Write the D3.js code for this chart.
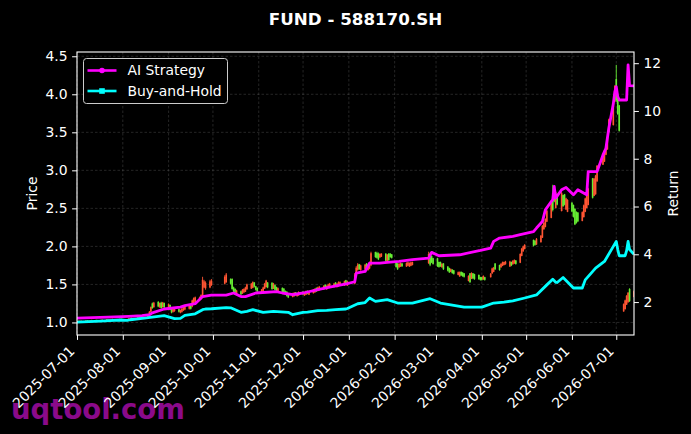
<!DOCTYPE html>
<html>
<head>
<meta charset="utf-8">
<script src="https://cdn.jsdelivr.net/npm/d3@7"></script>
<style>
  body { margin: 0; background: #000; }
  svg { display: block; }
  text { font-family: "DejaVu Sans", sans-serif; fill: #fff; }
</style>
</head>
<body>
<script>
// chart of fund 588170.SH: daily candles (price) plus two strategy curves (return)

// trading days, one line per week
var tradeDays = [
  "2025-07-01","2025-07-02","2025-07-03","2025-07-04",
  "2025-07-07","2025-07-08","2025-07-09","2025-07-10","2025-07-11",
  "2025-07-14","2025-07-15","2025-07-16","2025-07-17","2025-07-18",
  "2025-07-21","2025-07-22","2025-07-23","2025-07-24","2025-07-25",
  "2025-07-28","2025-07-29","2025-07-30","2025-07-31","2025-08-01",
  "2025-08-04","2025-08-05","2025-08-06","2025-08-07","2025-08-08",
  "2025-08-11","2025-08-12","2025-08-13","2025-08-14","2025-08-15",
  "2025-08-18","2025-08-19","2025-08-20","2025-08-21","2025-08-22",
  "2025-08-25","2025-08-26","2025-08-27","2025-08-28","2025-08-29",
  "2025-09-01","2025-09-02","2025-09-03","2025-09-04","2025-09-05",
  "2025-09-08","2025-09-09","2025-09-10","2025-09-11","2025-09-12",
  "2025-09-15","2025-09-16","2025-09-17","2025-09-18","2025-09-19",
  "2025-09-22","2025-09-23","2025-09-24","2025-09-25","2025-09-26",
  "2025-09-29","2025-09-30",
  "2025-10-09","2025-10-10",
  "2025-10-13","2025-10-14","2025-10-15","2025-10-16","2025-10-17",
  "2025-10-20","2025-10-21","2025-10-22","2025-10-23","2025-10-24",
  "2025-10-27","2025-10-28","2025-10-29","2025-10-30","2025-10-31",
  "2025-11-03","2025-11-04","2025-11-05","2025-11-06","2025-11-07",
  "2025-11-10","2025-11-11","2025-11-12","2025-11-13","2025-11-14",
  "2025-11-17","2025-11-18","2025-11-19","2025-11-20","2025-11-21",
  "2025-11-24","2025-11-25","2025-11-26","2025-11-27","2025-11-28",
  "2025-12-01","2025-12-02","2025-12-03","2025-12-04","2025-12-05",
  "2025-12-08","2025-12-09","2025-12-10","2025-12-11","2025-12-12",
  "2025-12-15","2025-12-16","2025-12-17","2025-12-18","2025-12-19",
  "2025-12-22","2025-12-23","2025-12-24","2025-12-25","2025-12-26",
  "2025-12-29","2025-12-30","2025-12-31",
  "2026-01-05","2026-01-06","2026-01-07","2026-01-08","2026-01-09",
  "2026-01-12","2026-01-13","2026-01-14","2026-01-15","2026-01-16",
  "2026-01-19","2026-01-20","2026-01-21","2026-01-22","2026-01-23",
  "2026-01-26","2026-01-27","2026-01-28","2026-01-29","2026-01-30",
  "2026-02-02","2026-02-03","2026-02-04","2026-02-05","2026-02-06",
  "2026-02-09","2026-02-10","2026-02-11","2026-02-12","2026-02-13",
  "2026-02-24","2026-02-25","2026-02-26","2026-02-27",
  "2026-03-02","2026-03-03","2026-03-04","2026-03-05","2026-03-06",
  "2026-03-09","2026-03-10","2026-03-11","2026-03-12","2026-03-13",
  "2026-03-16","2026-03-17","2026-03-18","2026-03-19","2026-03-20",
  "2026-03-23","2026-03-24","2026-03-25","2026-03-26","2026-03-27",
  "2026-03-30","2026-03-31","2026-04-01","2026-04-02","2026-04-03",
  "2026-04-07","2026-04-08","2026-04-09","2026-04-10",
  "2026-04-13","2026-04-14","2026-04-15","2026-04-16","2026-04-17",
  "2026-04-20","2026-04-21","2026-04-22","2026-04-23","2026-04-24",
  "2026-04-27","2026-04-28","2026-04-29","2026-04-30",
  "2026-05-06","2026-05-07","2026-05-08",
  "2026-05-11","2026-05-12","2026-05-13","2026-05-14","2026-05-15",
  "2026-05-18","2026-05-19","2026-05-20","2026-05-21","2026-05-22",
  "2026-05-25","2026-05-26","2026-05-27","2026-05-28","2026-05-29",
  "2026-06-01","2026-06-02","2026-06-03","2026-06-04","2026-06-05",
  "2026-06-08","2026-06-09","2026-06-10","2026-06-11","2026-06-12",
  "2026-06-15","2026-06-16","2026-06-17","2026-06-18",
  "2026-06-22","2026-06-23","2026-06-24","2026-06-25","2026-06-26",
  "2026-06-29","2026-06-30","2026-07-01","2026-07-02","2026-07-03",
  "2026-07-06","2026-07-07","2026-07-08","2026-07-09","2026-07-10",
  "2026-07-13"
];

// open, high, low, close for each trading day (same week lines as above)
var ohlc = [
  [1.010,1.020,1.004,1.016],[1.016,1.024,1.010,1.020],[1.020,1.026,1.012,1.014],[1.014,1.024,1.008,1.021],
  [1.021,1.028,1.015,1.025],[1.025,1.032,1.018,1.020],[1.020,1.027,1.012,1.018],[1.018,1.030,1.014,1.027],[1.027,1.036,1.022,1.032],
  [1.032,1.038,1.024,1.028],[1.028,1.034,1.018,1.022],[1.022,1.030,1.016,1.026],[1.026,1.035,1.020,1.031],[1.031,1.040,1.026,1.036],
  [1.036,1.044,1.030,1.040],[1.040,1.046,1.032,1.035],[1.035,1.042,1.028,1.038],[1.038,1.048,1.034,1.044],[1.044,1.050,1.036,1.040],
  [1.040,1.046,1.032,1.036],[1.036,1.044,1.030,1.041],[1.041,1.050,1.036,1.046],[1.046,1.052,1.036,1.040],[1.040,1.046,1.032,1.038],
  [1.038,1.048,1.034,1.045],[1.045,1.056,1.040,1.052],[1.052,1.060,1.046,1.056],[1.056,1.064,1.048,1.052],[1.052,1.060,1.044,1.058],
  [1.058,1.068,1.052,1.064],[1.064,1.072,1.056,1.060],[1.060,1.070,1.054,1.066],[1.066,1.076,1.058,1.062],[1.062,1.074,1.056,1.070],
  [1.070,1.100,1.066,1.095],[1.095,1.150,1.090,1.140],[1.140,1.210,1.135,1.200],[1.250,1.262,1.180,1.190],[1.200,1.270,1.195,1.260],
  [1.270,1.280,1.200,1.210],[1.205,1.262,1.190,1.255],[1.260,1.272,1.180,1.190],[1.200,1.270,1.195,1.262],[1.255,1.262,1.190,1.200],
  [1.190,1.250,1.180,1.240],[1.230,1.235,1.160,1.170],[1.190,1.200,1.120,1.130],[1.140,1.190,1.130,1.180],[1.150,1.200,1.140,1.190],
  [1.175,1.180,1.130,1.140],[1.130,1.170,1.120,1.160],[1.140,1.190,1.130,1.180],[1.160,1.210,1.150,1.200],[1.170,1.220,1.160,1.210],
  [1.180,1.230,1.170,1.220],[1.215,1.220,1.170,1.180],[1.210,1.300,1.200,1.290],[1.250,1.330,1.240,1.320],[1.270,1.340,1.260,1.330],
  [1.290,1.340,1.280,1.330],[1.310,1.370,1.300,1.360],[1.340,1.600,1.320,1.560],[1.460,1.560,1.450,1.540],[1.450,1.540,1.430,1.520],
  [1.460,1.560,1.450,1.540],[1.490,1.570,1.480,1.550],
  [1.510,1.620,1.500,1.600],[1.530,1.650,1.520,1.630],
  [1.570,1.580,1.500,1.510],[1.570,1.580,1.430,1.440],[1.460,1.470,1.400,1.410],[1.440,1.450,1.380,1.390],[1.380,1.430,1.370,1.420],
  [1.410,1.420,1.360,1.370],[1.380,1.440,1.375,1.430],[1.395,1.450,1.390,1.440],[1.405,1.470,1.400,1.460],[1.435,1.510,1.430,1.500],
  [1.445,1.520,1.440,1.510],[1.455,1.540,1.450,1.530],[1.525,1.530,1.460,1.470],[1.475,1.480,1.420,1.430],[1.455,1.460,1.400,1.410],
  [1.395,1.440,1.390,1.435],[1.415,1.470,1.410,1.460],[1.445,1.520,1.440,1.510],[1.465,1.560,1.460,1.550],[1.525,1.530,1.450,1.460],
  [1.520,1.530,1.430,1.440],[1.445,1.520,1.440,1.510],[1.490,1.500,1.420,1.430],[1.465,1.470,1.410,1.420],[1.405,1.460,1.400,1.450],
  [1.455,1.460,1.390,1.400],[1.445,1.450,1.380,1.390],[1.415,1.420,1.360,1.370],[1.405,1.410,1.340,1.350],[1.375,1.380,1.320,1.330],
  [1.335,1.390,1.330,1.380],[1.345,1.400,1.340,1.390],[1.395,1.400,1.350,1.360],[1.345,1.390,1.340,1.380],[1.355,1.410,1.350,1.400],
  [1.405,1.410,1.360,1.370],[1.355,1.400,1.350,1.390],[1.365,1.420,1.360,1.410],[1.415,1.420,1.370,1.380],[1.365,1.410,1.360,1.400],
  [1.385,1.440,1.380,1.430],[1.395,1.450,1.390,1.440],[1.455,1.460,1.400,1.410],[1.415,1.470,1.410,1.460],[1.425,1.480,1.420,1.470],
  [1.435,1.490,1.430,1.480],[1.495,1.500,1.440,1.450],[1.435,1.490,1.430,1.480],[1.455,1.510,1.450,1.500],[1.455,1.520,1.450,1.510],
  [1.465,1.520,1.460,1.510],[1.525,1.530,1.470,1.480],[1.465,1.520,1.460,1.510],[1.475,1.540,1.470,1.530],[1.485,1.540,1.480,1.530],
  [1.485,1.550,1.480,1.540],[1.555,1.560,1.490,1.500],[1.485,1.550,1.480,1.540],
  [1.510,1.650,1.500,1.630],[1.630,1.740,1.620,1.720],[1.690,1.780,1.680,1.760],[1.765,1.770,1.690,1.700],[1.690,1.760,1.680,1.750],
  [1.700,1.770,1.690,1.760],[1.775,1.780,1.700,1.710],[1.690,1.760,1.680,1.750],[1.710,1.800,1.700,1.790],[1.750,1.930,1.740,1.910],
  [1.925,1.930,1.850,1.860],[1.915,1.930,1.840,1.850],[1.905,1.920,1.820,1.830],[1.855,1.910,1.850,1.900],[1.865,1.910,1.860,1.905],
  [1.905,1.910,1.800,1.810],[1.790,1.900,1.780,1.890],[1.905,1.910,1.810,1.820],[1.905,1.910,1.850,1.860],[1.895,1.900,1.840,1.850],
  [1.795,1.800,1.720,1.730],[1.775,1.780,1.690,1.700],[1.725,1.780,1.720,1.770],[1.735,1.790,1.730,1.780],[1.775,1.780,1.730,1.740],
  [1.735,1.790,1.730,1.780],[1.745,1.800,1.740,1.790],[1.735,1.790,1.730,1.780],[1.745,1.800,1.740,1.790],[1.755,1.800,1.750,1.795],
  [1.780,1.930,1.770,1.900],[1.905,1.920,1.740,1.760],[1.875,1.880,1.780,1.790],[1.845,1.850,1.760,1.770],
  [1.845,1.850,1.730,1.740],[1.795,1.800,1.720,1.730],[1.795,1.800,1.730,1.740],[1.725,1.780,1.720,1.770],[1.775,1.780,1.690,1.700],
  [1.735,1.740,1.670,1.680],[1.715,1.720,1.650,1.660],[1.665,1.710,1.660,1.700],[1.695,1.700,1.640,1.650],[1.685,1.690,1.630,1.640],
  [1.625,1.670,1.620,1.660],[1.605,1.670,1.600,1.660],[1.665,1.670,1.610,1.620],[1.655,1.660,1.600,1.610],[1.645,1.650,1.590,1.600],
  [1.545,1.620,1.540,1.610],[1.645,1.650,1.520,1.530],[1.575,1.660,1.570,1.650],[1.645,1.650,1.570,1.580],[1.635,1.640,1.560,1.570],
  [1.625,1.630,1.560,1.570],[1.595,1.600,1.550,1.560],[1.595,1.600,1.550,1.560],[1.565,1.620,1.560,1.610],[1.595,1.600,1.550,1.560],
  [1.595,1.650,1.590,1.640],[1.645,1.720,1.640,1.710],[1.665,1.730,1.660,1.720],[1.775,1.780,1.690,1.700],
  [1.755,1.760,1.680,1.690],[1.725,1.780,1.720,1.770],[1.745,1.800,1.740,1.790],[1.755,1.800,1.750,1.795],[1.765,1.810,1.760,1.800],
  [1.735,1.810,1.730,1.800],[1.795,1.800,1.740,1.750],[1.765,1.820,1.760,1.810],[1.775,1.830,1.770,1.820],[1.815,1.820,1.760,1.770],
  [1.785,1.910,1.780,1.900],[1.875,1.980,1.870,1.970],[1.935,2.010,1.930,2.000],[1.965,2.030,1.960,2.020],
  [2.085,2.090,2.000,2.010],[2.075,2.080,2.010,2.020],[2.025,2.110,2.020,2.100],
  [2.055,2.150,2.050,2.140],[2.115,2.280,2.110,2.270],[2.225,2.320,2.220,2.310],[2.255,2.370,2.250,2.360],[2.325,2.480,2.320,2.470],
  [2.375,2.590,2.370,2.580],[2.700,2.810,2.460,2.480],[2.760,2.770,2.580,2.590],[2.505,2.720,2.500,2.710],[2.685,2.690,2.540,2.550],
  [2.465,2.720,2.460,2.700],[2.675,2.680,2.520,2.530],[2.685,2.690,2.540,2.550],[2.485,2.640,2.480,2.630],[2.455,2.620,2.450,2.610],
  [2.575,2.580,2.450,2.460],[2.545,2.550,2.380,2.390],[2.495,2.500,2.280,2.290],[2.455,2.460,2.300,2.310],[2.445,2.450,2.320,2.330],
  [2.335,2.460,2.330,2.450],[2.385,2.550,2.380,2.540],[2.455,2.640,2.450,2.630],[2.505,2.700,2.500,2.690],[2.545,2.770,2.540,2.760],
  [2.895,2.900,2.630,2.640],[2.665,2.900,2.660,2.890],[2.685,2.940,2.680,2.930],[2.855,3.070,2.850,3.060],
  [3.075,3.200,3.070,3.190],[3.115,3.270,3.110,3.260],[3.205,3.350,3.200,3.340],[3.275,3.440,3.270,3.430],[3.505,3.680,3.500,3.670],
  [3.595,3.860,3.590,3.850],[3.905,4.120,3.900,4.110],[4.200,4.387,3.900,3.920],[3.945,3.950,3.730,3.740],[3.855,3.860,3.510,3.520],
  [1.145,1.250,1.140,1.240],[1.175,1.300,1.170,1.290],[1.235,1.360,1.230,1.350],[1.265,1.400,1.260,1.390],[1.440,1.450,1.270,1.280],
  [1.335,1.420,1.330,1.410]
];

// AI Strategy curve (return axis)
var aiDates = [
  "2025-07-01","2025-07-22","2025-08-05","2025-08-14","2025-08-19","2025-08-21","2025-08-29",
  "2025-09-09","2025-09-12","2025-09-19","2025-09-24","2025-09-30","2025-10-10","2025-10-15",
  "2025-10-20","2025-10-23","2025-10-30","2025-11-13","2025-11-17","2025-11-24","2025-12-01",
  "2025-12-11","2025-12-19","2025-12-31","2026-01-05","2026-01-06","2026-01-12","2026-01-15",
  "2026-01-22","2026-01-27","2026-02-04","2026-02-13","2026-02-24","2026-02-26","2026-03-03",
  "2026-03-17","2026-03-31","2026-04-07","2026-04-09","2026-04-13","2026-04-22","2026-04-27",
  "2026-05-06","2026-05-08","2026-05-12","2026-05-14","2026-05-18","2026-05-19","2026-05-20",
  "2026-05-21","2026-05-25","2026-05-28","2026-06-02","2026-06-05","2026-06-11","2026-06-12",
  "2026-06-18","2026-06-22","2026-06-24","2026-06-26","2026-06-29","2026-06-30","2026-07-01",
  "2026-07-02","2026-07-03","2026-07-08","2026-07-09","2026-07-10","2026-07-13"
];
var aiValues = [
  1.33, 1.37, 1.40, 1.43, 1.47, 1.55, 1.71,
  1.79, 1.85, 1.93, 2.23, 2.29, 2.29, 2.38,
  2.23, 2.23, 2.38, 2.44, 2.38, 2.31, 2.38,
  2.52, 2.63, 2.77, 2.85, 3.21, 3.28, 3.63,
  3.63, 3.66, 3.70, 3.78, 3.84, 4.08, 3.94,
  3.98, 4.16, 4.26, 4.54, 4.68, 4.75, 4.82,
  4.95, 5.10, 5.37, 5.86, 6.21, 6.28, 6.84,
  6.35, 6.70, 6.80, 6.49, 6.70, 6.49, 7.46,
  7.46, 8.16, 8.44, 9.30, 10.30, 10.80, 11.02,
  10.60, 10.46, 10.46, 11.93, 11.06, 11.05
];

// Buy-and-Hold curve (return axis)
var bhDates = [
  "2025-07-01","2025-07-17","2025-07-23","2025-07-30","2025-08-04","2025-08-06","2025-08-21",
  "2025-08-29","2025-09-05","2025-09-09","2025-09-12","2025-09-19","2025-09-24","2025-09-26",
  "2025-09-30","2025-10-10","2025-10-13","2025-10-20","2025-10-24","2025-10-28","2025-11-04",
  "2025-11-11","2025-11-21","2025-11-24","2025-12-01","2025-12-04","2025-12-11","2025-12-17",
  "2025-12-23","2025-12-30","2025-12-31","2026-01-07","2026-01-12","2026-01-15","2026-01-19",
  "2026-01-27","2026-02-03","2026-02-13","2026-02-25","2026-03-04","2026-03-20","2026-04-01",
  "2026-04-09","2026-04-16","2026-04-22","2026-04-30","2026-05-08","2026-05-15","2026-05-19",
  "2026-05-21","2026-05-22","2026-05-26","2026-06-02","2026-06-08","2026-06-10","2026-06-17",
  "2026-06-23","2026-07-01","2026-07-02","2026-07-03","2026-07-07","2026-07-08","2026-07-09",
  "2026-07-10","2026-07-13"
];
var bhValues = [
  1.16, 1.20, 1.22, 1.25, 1.23, 1.26, 1.37,
  1.43, 1.31, 1.32, 1.44, 1.51, 1.68, 1.71,
  1.72, 1.77, 1.76, 1.57, 1.61, 1.68, 1.57,
  1.61, 1.57, 1.47, 1.57, 1.58, 1.64, 1.65,
  1.68, 1.71, 1.73, 1.93, 1.98, 2.17, 2.03,
  2.10, 1.96, 1.96, 2.14, 1.96, 1.79, 1.79,
  1.96, 2.00, 2.05, 2.17, 2.30, 2.72, 2.96,
  2.83, 2.82, 3.03, 2.59, 2.59, 2.93, 3.42,
  3.70, 4.54, 4.20, 3.94, 3.94, 4.15, 4.54,
  4.20, 4.00
];

// axis ticks
var xTickLabels = ["2025-07-01","2025-08-01","2025-09-01","2025-10-01","2025-11-01","2025-12-01",
  "2026-01-01","2026-02-01","2026-03-01","2026-04-01","2026-05-01","2026-06-01","2026-07-01"];
var priceTicks = [1.0, 1.5, 2.0, 2.5, 3.0, 3.5, 4.0, 4.5];
var returnTicks = [2, 4, 6, 8, 10, 12];
var xStart = "2025-07-01", xEnd = "2026-07-13";

// dimensions
var width = 691;
var height = 434;
var plotLeft = 77, plotRight = 634, plotTop = 52, plotBottom = 335;
var fontSize = 13.9;
var upColor = "#ff5533", downColor = "#66ee33";

var parse = d3.utcParse("%Y-%m-%d");

var candles = tradeDays.map(function(d, i) {
  var v = ohlc[i] || [NaN, NaN, NaN, NaN];
  return {date: parse(d), open: v[0], high: v[1], low: v[2], close: v[3]};
}).filter(function(d) { return !isNaN(d.open); });

var aiLine = aiDates.map(function(d, i) { return {date: parse(d), value: aiValues[i]}; });
var bhLine = bhDates.map(function(d, i) { return {date: parse(d), value: bhValues[i]}; });

// scales, 5% padding like matplotlib autoscale
var xScale = d3.scaleUtc()
  .domain([parse(xStart), parse(xEnd)])
  .range([plotLeft, plotRight]);

var pMin = d3.min(candles, function(d) { return d.low; });
var pMax = d3.max(candles, function(d) { return d.high; });
var pPad = (pMax - pMin) * 0.05;
var yPrice = d3.scaleLinear()
  .domain([pMin - pPad, pMax + pPad])
  .range([plotBottom, plotTop]);

var allReturns = aiValues.concat(bhValues);
var rMin = d3.min(allReturns), rMax = d3.max(allReturns);
var rPad = (rMax - rMin) * 0.05;
var yReturn = d3.scaleLinear()
  .domain([rMin - rPad, rMax + rPad])
  .range([plotBottom, plotTop]);

var svg = d3.select("body")
  .append("svg")
  .attr("width", width)
  .attr("height", height);

svg.append("rect")
  .attr("width", width)
  .attr("height", height)
  .attr("fill", "#000");

// watermark sits under the tick labels
svg.append("text")
  .attr("x", 11)
  .attr("y", 419)
  .attr("font-size", 27.5)
  .attr("font-weight", "bold")
  .style("fill", "#8a0a8a")
  .text("uqtool.com");

svg.append("clipPath")
  .attr("id", "plotclip")
  .append("rect")
  .attr("x", plotLeft)
  .attr("y", plotTop)
  .attr("width", plotRight - plotLeft)
  .attr("height", plotBottom - plotTop);

// grid
var grid = svg.append("g")
  .attr("stroke", "#8a8a8a")
  .attr("stroke-opacity", 0.45)
  .attr("stroke-width", 0.6)
  .attr("stroke-dasharray", "2.5,2");

grid.selectAll(".vgrid")
  .data(xTickLabels)
  .enter()
  .append("line")
  .attr("x1", function(d) { return xScale(parse(d)); })
  .attr("x2", function(d) { return xScale(parse(d)); })
  .attr("y1", plotTop)
  .attr("y2", plotBottom);

grid.selectAll(".hgrid")
  .data(priceTicks)
  .enter()
  .append("line")
  .attr("x1", plotLeft)
  .attr("x2", plotRight)
  .attr("y1", function(d) { return yPrice(d); })
  .attr("y2", function(d) { return yPrice(d); });

// candles
var candleG = svg.append("g").attr("clip-path", "url(#plotclip)");

var candle = candleG.selectAll(".candle")
  .data(candles)
  .enter()
  .append("g");

candle.append("line")
  .attr("x1", function(d) { return xScale(d.date); })
  .attr("x2", function(d) { return xScale(d.date); })
  .attr("y1", function(d) { return yPrice(d.high); })
  .attr("y2", function(d) { return yPrice(d.low); })
  .attr("stroke", function(d) { return d.close >= d.open ? upColor : downColor; })
  .attr("stroke-width", 0.9);

candle.append("rect")
  .attr("x", function(d) { return xScale(d.date) - 0.8; })
  .attr("width", 1.6)
  .attr("y", function(d) { return yPrice(Math.max(d.open, d.close)); })
  .attr("height", function(d) {
    return Math.max(0.6, Math.abs(yPrice(d.open) - yPrice(d.close)));
  })
  .attr("fill", function(d) { return d.close >= d.open ? upColor : downColor; });

// strategy lines on the return axis
var line = d3.line()
  .x(function(d) { return xScale(d.date); })
  .y(function(d) { return yReturn(d.value); });

var lineG = svg.append("g").attr("clip-path", "url(#plotclip)");

lineG.append("path")
  .datum(bhLine)
  .attr("d", line)
  .attr("fill", "none")
  .attr("stroke", "#00ffff")
  .attr("stroke-width", 2.8)
  .attr("stroke-linejoin", "round");

lineG.append("path")
  .datum(aiLine)
  .attr("d", line)
  .attr("fill", "none")
  .attr("stroke", "#ff00ff")
  .attr("stroke-width", 2.8)
  .attr("stroke-linejoin", "round");

// axes
function styleAxis(g) {
  g.select(".domain").remove();
  g.selectAll(".tick line").attr("stroke", "#fff").attr("stroke-width", 1);
  g.selectAll(".tick text")
    .attr("font-size", fontSize)
    .attr("font-family", "DejaVu Sans")
    .style("fill", "#fff");
}

svg.append("g")
  .attr("transform", "translate(" + [plotLeft, 0] + ")")
  .call(d3.axisLeft(yPrice)
    .tickValues(priceTicks)
    .tickFormat(d3.format(".1f"))
    .tickSize(4.9)
    .tickPadding(4.6))
  .call(styleAxis);

svg.append("g")
  .attr("transform", "translate(" + [plotRight, 0] + ")")
  .call(d3.axisRight(yReturn)
    .tickValues(returnTicks)
    .tickFormat(d3.format("d"))
    .tickSize(4.9)
    .tickPadding(4.6))
  .call(styleAxis);

var xAxisG = svg.append("g")
  .attr("transform", "translate(" + [0, plotBottom] + ")")
  .call(d3.axisBottom(xScale)
    .tickValues(xTickLabels.map(parse))
    .tickFormat(d3.utcFormat("%Y-%m-%d"))
    .tickSize(4.9))
  .call(styleAxis);

// rotated date labels, right end at the tick
xAxisG.selectAll(".tick text")
  .attr("x", null)
  .attr("y", null)
  .attr("dy", null)
  .attr("text-anchor", "end")
  .attr("transform", "translate(-2,17) rotate(-45)");

// spines
svg.append("rect")
  .attr("x", plotLeft)
  .attr("y", plotTop)
  .attr("width", plotRight - plotLeft)
  .attr("height", plotBottom - plotTop)
  .attr("fill", "none")
  .attr("stroke", "#fff")
  .attr("stroke-width", 1.1);

// axis labels
svg.append("text")
  .attr("text-anchor", "middle")
  .attr("font-size", fontSize)
  .attr("transform", "translate(" + [37, (plotTop + plotBottom) / 2] + ") rotate(-90)")
  .text("Price");

svg.append("text")
  .attr("text-anchor", "middle")
  .attr("font-size", fontSize)
  .attr("transform", "translate(" + [678, (plotTop + plotBottom) / 2] + ") rotate(-90)")
  .text("Return");

// title
svg.append("text")
  .attr("x", (plotLeft + plotRight) / 2)
  .attr("y", 25)
  .attr("text-anchor", "middle")
  .attr("font-size", 16.7)
  .attr("font-weight", "bold")
  .text("FUND - 588170.SH");

// legend
var legendItems = [
  {name: "AI Strategy", color: "#ff00ff", marker: "circle"},
  {name: "Buy-and-Hold", color: "#00ffff", marker: "square"}
];

var legend = svg.append("g").attr("transform", "translate(83.5,58.5)");

legend.append("rect")
  .attr("width", 144)
  .attr("height", 45)
  .attr("rx", 3)
  .attr("fill", "#000")
  .attr("stroke", "#cccccc")
  .attr("stroke-width", 1);

var entry = legend.selectAll(".entry")
  .data(legendItems)
  .enter()
  .append("g")
  .attr("transform", function(d, i) { return "translate(0," + (12 + i * 20.5) + ")"; });

entry.append("line")
  .attr("x1", 4)
  .attr("x2", 33)
  .attr("stroke", function(d) { return d.color; })
  .attr("stroke-width", 2.6);

entry.each(function(d) {
  var g = d3.select(this);
  if (d.marker === "circle") {
    g.append("circle").attr("cx", 18.5).attr("r", 2.8).attr("fill", d.color);
  } else {
    g.append("rect").attr("x", 15.7).attr("y", -2.8).attr("width", 5.6).attr("height", 5.6).attr("fill", d.color);
  }
});

entry.append("text")
  .attr("x", 44)
  .attr("dy", "0.35em")
  .attr("font-size", fontSize)
  .text(function(d) { return d.name; });
</script>
</body>
</html>
